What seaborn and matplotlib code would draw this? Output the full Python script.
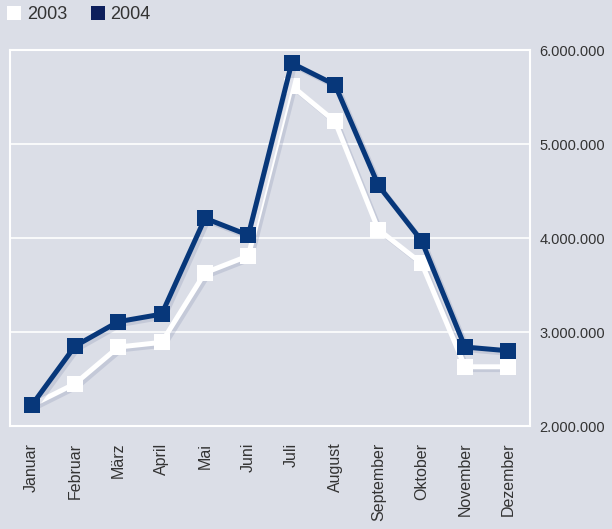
import pandas as pd
import matplotlib
matplotlib.use("Agg")
import matplotlib.pyplot as plt
import matplotlib.patheffects as pe
from matplotlib.lines import Line2D
from matplotlib.ticker import FuncFormatter
import seaborn as sb

months = ['Januar', 'Februar', 'März', 'April', 'Mai', 'Juni', 'Juli',
          'August', 'September', 'Oktober', 'November', 'Dezember']
values_2003 = [2220000, 2450000, 2840000, 2890000, 3630000, 3810000,
               5620000, 5240000, 4090000, 3730000, 2630000, 2630000]
values_2004 = [2220000, 2850000, 3110000, 3190000, 4210000, 4030000,
               5860000, 5630000, 4560000, 3970000, 2840000, 2800000]
years = ['2003', '2004']
yticks = [2000000, 3000000, 4000000, 5000000, 6000000]

bg = '#dbdee7'
navy = '#07377a'

df = pd.DataFrame({
    'Monat': months * 2,
    'Wert': values_2003 + values_2004,
    'Jahr': [years[0]] * len(months) + [years[1]] * len(months),
})

sb.set_style('white')
plt.rcParams['font.family'] = ['Liberation Sans', 'DejaVu Sans']

fig = plt.figure(figsize=(6.12, 5.29), dpi=100, facecolor=bg)
ax = fig.add_axes([10 / 612, 103 / 529, 520 / 612, 376 / 529])
ax.set_facecolor(bg)

sb.lineplot(data=df, x='Monat', y='Wert', hue='Jahr', style='Jahr',
            hue_order=years, palette={'2003': 'white', '2004': navy},
            markers=['s', 's'], dashes=False, sort=False, legend=False,
            linewidth=3.6, markersize=11.5, markeredgewidth=0, ax=ax)

# weicher Schatten unter Linien und Markern
shadow = [pe.SimpleLineShadow(offset=(2, -2), shadow_color='#6a76a0', alpha=0.2),
          pe.Normal()]
for line in ax.lines:
    line.set_path_effects(shadow)

ax.set_xlim(-0.5, 11.5)
ax.set_ylim(2000000, 6000000)
ax.set_yticks(yticks)
ax.yaxis.tick_right()
ax.yaxis.set_major_formatter(FuncFormatter(lambda v, p: '{:,.0f}'.format(v).replace(',', '.')))
ax.tick_params(axis='y', length=0, pad=7, labelsize=10.5, labelcolor='#333333')
ax.tick_params(axis='x', length=0, pad=12, labelsize=11.5, labelcolor='#333333')
for lbl in ax.get_xticklabels():
    lbl.set_rotation(90)
    lbl.set_va('top')
    lbl.set_ha('center')
ax.set(xlabel='', ylabel='')
ax.grid(axis='y', color='white', linewidth=1.2)
ax.grid(axis='x', visible=False)
ax.set_axisbelow(True)
for s in ax.spines.values():
    s.set_color('white')
    s.set_linewidth(1.5)

handles = [Line2D([], [], marker='s', linestyle='none', markersize=10,
                  markerfacecolor='white', markeredgewidth=0),
           Line2D([], [], marker='s', linestyle='none', markersize=10,
                  markerfacecolor='#0d1f5c', markeredgewidth=0)]
fig.legend(handles, years, loc='upper left', bbox_to_anchor=(-0.012, 1.012), ncol=2,
           frameon=False, fontsize=13, handletextpad=0.2, columnspacing=1.2,
           borderaxespad=0.3, handlelength=1.0, labelcolor='#333333')

fig.savefig('out.png', dpi=100, facecolor=bg)
